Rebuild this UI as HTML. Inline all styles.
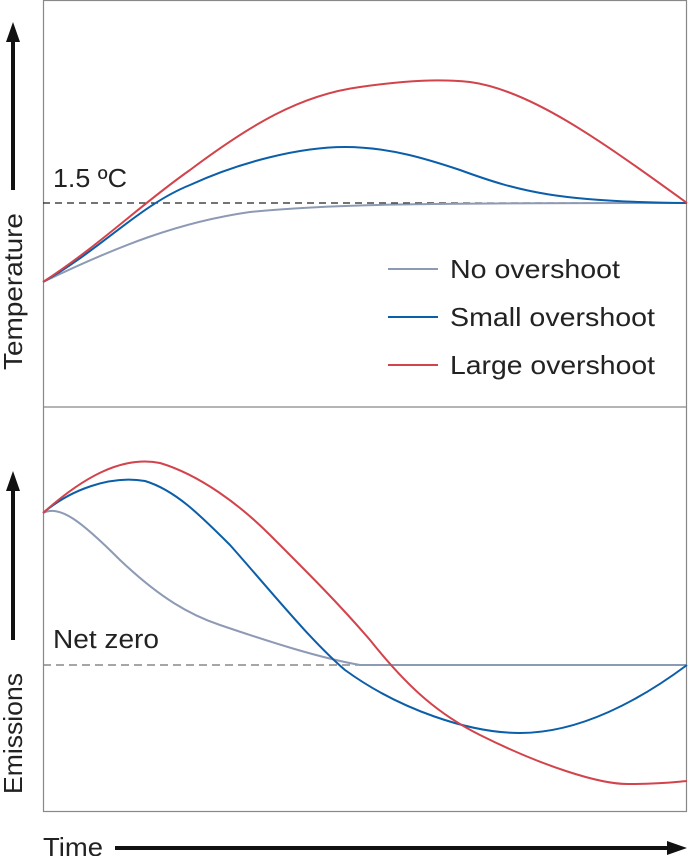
<!DOCTYPE html>
<html><head><style>
body{margin:0;background:#fff}
svg{display:block}
text{font-family:"Liberation Sans",sans-serif;fill:#222}
</style></head><body>
<svg width="688" height="856" viewBox="0 0 688 856">
<rect x="43.5" y="0.5" width="643" height="811" fill="none" stroke="#888" stroke-width="1.2"/>
<line x1="43" y1="407" x2="687" y2="407" stroke="#888" stroke-width="1.2"/>
<line x1="43" y1="203" x2="687" y2="203" stroke="#222" stroke-width="1.2" stroke-dasharray="7,5"/>
<text x="53" y="187" font-size="25.5" textLength="74" lengthAdjust="spacingAndGlyphs">1.5 ºC</text>
<path d="M43,282 C120,245 180,222 250,212 C330,204 420,203 687,203" fill="none" stroke="#8d9ab5" stroke-width="2"/>
<path d="M43,282 C100,250 140,205 190,185 C240,162 300,147 345,147 C390,147 430,160 460,170 C520,192 560,202 687,203" fill="none" stroke="#0b5ea8" stroke-width="2"/>
<path d="M43,282 C100,245 140,205 190,170 C250,125 300,95 360,87 C410,80 440,79 470,82 C530,90 600,140 687,203" fill="none" stroke="#d2434b" stroke-width="2"/>
<line x1="388" y1="269" x2="438" y2="269" stroke="#8d9ab5" stroke-width="2"/>
<line x1="388" y1="317" x2="438" y2="317" stroke="#0b5ea8" stroke-width="2"/>
<line x1="388" y1="365" x2="438" y2="365" stroke="#d2434b" stroke-width="2"/>
<text x="450" y="278" font-size="26" textLength="170" lengthAdjust="spacingAndGlyphs">No overshoot</text>
<text x="450" y="326" font-size="26" textLength="205" lengthAdjust="spacingAndGlyphs">Small overshoot</text>
<text x="450" y="374" font-size="26" textLength="205" lengthAdjust="spacingAndGlyphs">Large overshoot</text>
<line x1="43" y1="665" x2="687" y2="665" stroke="#888" stroke-width="1.5" stroke-dasharray="8,5"/>
<line x1="360" y1="665" x2="687" y2="665" stroke="#556" stroke-width="1.5" stroke-dasharray="14,1"/>
<text x="53" y="648" font-size="25.5" textLength="106" lengthAdjust="spacingAndGlyphs">Net zero</text>
<path d="M43,513 C60,505 80,520 120,560 C160,598 190,615 220,625 C270,642 320,658 360,665 L687,665" fill="none" stroke="#8d9ab5" stroke-width="2"/>
<path d="M43,513 C70,490 110,475 145,481 C175,490 200,515 230,545 C270,590 310,640 345,670 C400,710 470,733 520,733 C580,733 640,700 687,665" fill="none" stroke="#0b5ea8" stroke-width="2"/>
<path d="M43,513 C80,480 120,455 160,463 C200,475 240,505 270,535 C310,575 340,605 370,640 C410,690 440,715 480,735 C540,765 600,785 630,784 C660,784 675,782 687,781" fill="none" stroke="#d2434b" stroke-width="2"/>
<line x1="13" y1="190" x2="13" y2="40" stroke="#111" stroke-width="4"/>
<polygon points="13,22 6,42 20,42" fill="#111"/>
<text transform="translate(22,370) rotate(-90)" font-size="26" textLength="157" lengthAdjust="spacingAndGlyphs">Temperature</text>
<line x1="13" y1="640" x2="13" y2="490" stroke="#111" stroke-width="4"/>
<polygon points="13,471 6,491 20,491" fill="#111"/>
<text transform="translate(22,794) rotate(-90)" font-size="26" textLength="121" lengthAdjust="spacingAndGlyphs">Emissions</text>
<text x="43" y="856" font-size="26" textLength="60" lengthAdjust="spacingAndGlyphs">Time</text>
<line x1="115" y1="848" x2="668" y2="848" stroke="#111" stroke-width="4"/>
<polygon points="687,848 667,841 667,855" fill="#111"/>
</svg>
</body></html>
